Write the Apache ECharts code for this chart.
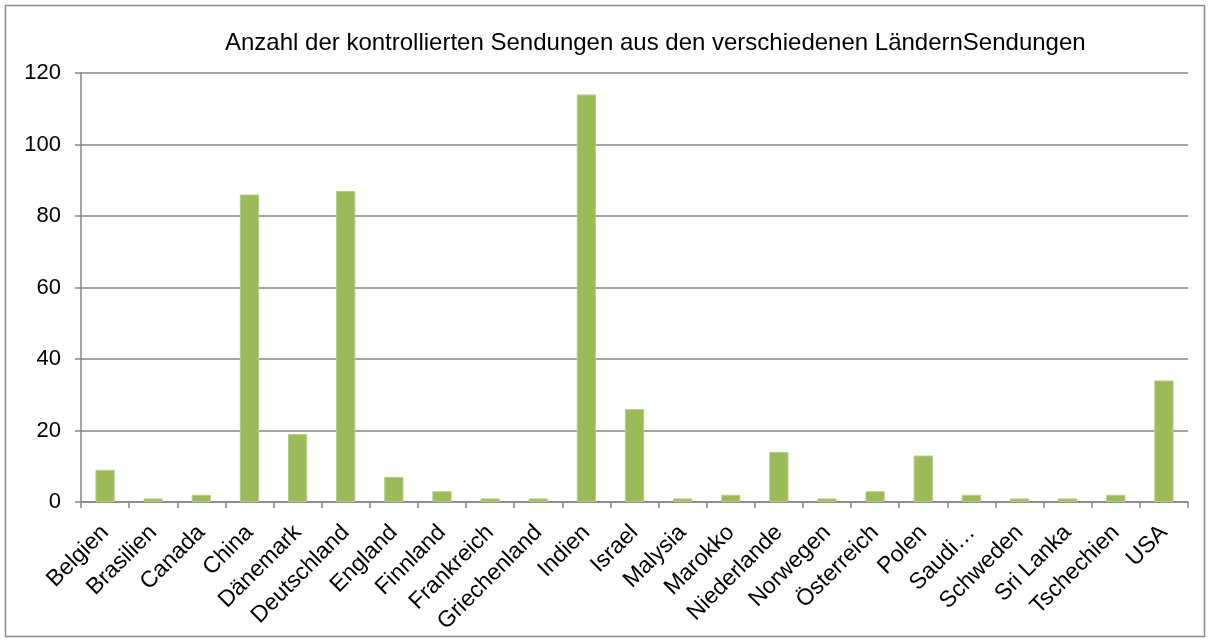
<!DOCTYPE html>
<html><head><meta charset="utf-8">
<script src="https://cdn.jsdelivr.net/npm/echarts@6/dist/echarts.min.js"></script>
<style>html,body{margin:0;padding:0;background:#fff}#c{width:1211px;height:643px}</style>
</head><body><div id="c"></div>
<script>
var categories = ["Belgien","Brasilien","Canada","China","Dänemark","Deutschland","England","Finnland","Frankreich","Griechenland","Indien","Israel","Malysia","Marokko","Niederlande","Norwegen","Österreich","Polen","Saudi…","Schweden","Sri Lanka","Tschechien","USA"];
var values = [9,1,2,86,19,87,7,3,1,1,114,26,1,2,14,1,3,13,2,1,1,2,34];
var yTicks = {min:0, max:120, interval:20};
var titleText = "Anzahl der kontrollierten Sendungen aus den verschiedenen LändernSendungen";

var chart = echarts.init(document.getElementById('c'));
chart.setOption({
  animation:false,
  textStyle:{fontFamily:'Liberation Sans, Arial, sans-serif'},
  graphic:[{type:'rect',shape:{x:5.5,y:5.5,width:1199,height:631},style:{fill:'none',stroke:'#8c8c8c',lineWidth:1.5}}],
  title:{text:titleText,left:220,top:26,textStyle:{fontSize:24,fontWeight:'normal',color:'#000',fontFamily:'Liberation Sans, Arial, sans-serif'}},
  grid:{left:81,right:23,top:73,bottom:141,containLabel:false},
  xAxis:{type:'category',data:categories,
    axisLine:{lineStyle:{color:'#868686',width:1.5}},
    axisTick:{show:true,length:6,lineStyle:{color:'#868686',width:1.5},alignWithLabel:false},
    axisLabel:{rotate:45,interval:0,fontSize:23,color:'#000',margin:27,fontFamily:'Liberation Sans, Arial, sans-serif'}},
  yAxis:{type:'value',min:yTicks.min,max:yTicks.max,interval:yTicks.interval,
    axisLine:{show:true,lineStyle:{color:'#868686',width:1.5}},
    axisTick:{show:true,length:6,lineStyle:{color:'#868686',width:1.5}},
    splitLine:{lineStyle:{color:'#868686',width:1.5}},
    axisLabel:{fontSize:22,color:'#000',margin:20,fontFamily:'Liberation Sans, Arial, sans-serif'}},
  series:[{type:'bar',data:values,barCategoryGap:'60%',
    itemStyle:{color:'#9BBB59',borderColor:'#b5cf85',borderWidth:1}}]
});
</script></body></html>
